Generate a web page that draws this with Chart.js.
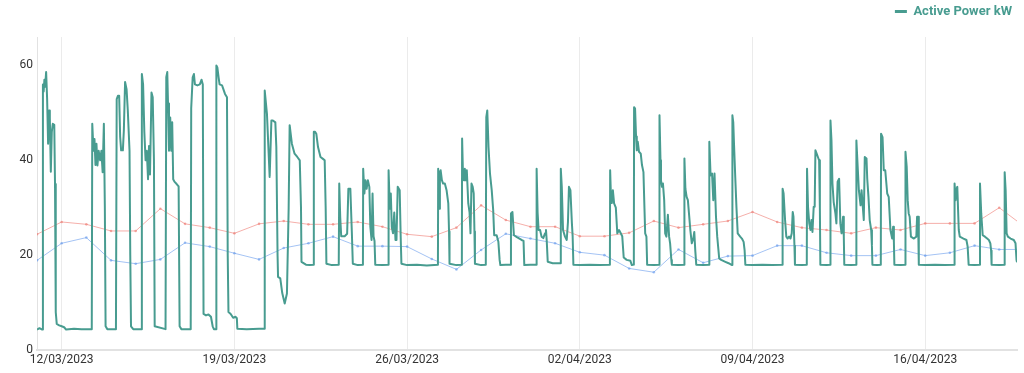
<!DOCTYPE html>
<html>
<head>
<meta charset="utf-8">
<script src="https://cdn.jsdelivr.net/npm/chart.js@4.4.0/dist/chart.umd.min.js"></script>
<style>
  body { margin: 0; background: #fff; }
  canvas { display: block; }
</style>
</head>
<body>
<canvas id="powerChart" width="1024" height="373"></canvas>
<script>
// x values are days since 11/03/2023 00:00
const powerDays = [
  0.00, 0.10, 0.21, 0.24, 0.27, 0.30, 0.33, 0.37, 0.41, 0.45, 0.49, 0.52, 0.56, 0.60, 0.64, 0.70, 0.73, 0.76, 0.80, 0.90, 1.00, 1.10, 1.18, 1.50, 1.80, 2.22,
  2.24, 2.29, 2.33, 2.37, 2.41, 2.45, 2.50, 2.56, 2.61, 2.66, 2.71, 2.75, 2.78, 2.85, 3.20,
  3.23, 3.28, 3.33, 3.37, 3.41, 3.48, 3.52, 3.57, 3.63, 3.68, 3.75, 3.78, 3.81, 3.90, 4.22,
  4.25, 4.30, 4.35, 4.40, 4.45, 4.50, 4.54, 4.58, 4.64, 4.69, 4.74, 4.77, 5.21,
  5.24, 5.28, 5.31, 5.35, 5.40, 5.44, 5.48, 5.52, 5.57, 5.66, 5.74, 5.78, 5.85, 6.23,
  6.25, 6.31, 6.36, 6.40, 6.50, 6.60, 6.67, 6.72, 6.75, 6.85, 6.95, 7.05, 7.12, 7.17, 7.26,
  7.27, 7.31, 7.36, 7.40, 7.50, 7.62, 7.70, 7.73, 7.76, 7.85, 7.95, 8.05, 8.10, 8.12, 8.50, 9.00, 9.22,
  9.23, 9.32, 9.43, 9.50, 9.56, 9.66, 9.70, 9.75, 9.77, 9.86, 9.94, 10.04, 10.13, 10.20, 10.24, 10.33, 10.44, 10.55, 10.65, 10.70, 10.72, 10.90, 11.05, 11.21,
  11.22, 11.27, 11.32, 11.39, 11.49, 11.59, 11.66, 11.70, 11.73, 11.95, 12.23,
  12.25, 12.29, 12.33, 12.47, 12.57, 12.62, 12.70, 12.76, 12.80, 13.00, 13.21,
  13.22, 13.27, 13.31, 13.36, 13.41, 13.47, 13.51, 13.56, 13.60, 13.64, 13.68, 13.71, 14.00, 14.24,
  14.25, 14.30, 14.34, 14.38, 14.43, 14.48, 14.53, 14.57, 14.62, 14.70, 14.74, 14.77, 15.00, 15.40, 15.80, 16.25,
  16.26, 16.30, 16.33, 16.36, 16.41, 16.46, 16.53, 16.60, 16.67, 16.70, 16.72, 17.00, 17.22,
  17.23, 17.27, 17.31, 17.34, 17.38, 17.42, 17.48, 17.53, 17.57, 17.61, 17.66, 17.70, 17.73, 17.75, 18.00, 18.19,
  18.21, 18.25, 18.30, 18.36, 18.43, 18.49, 18.53, 18.63, 18.70, 18.75, 18.78, 19.00, 19.20,
  19.21, 19.27, 19.33, 19.45, 19.64, 19.72, 19.75, 20.00, 20.24,
  20.25, 20.29, 20.33, 20.39, 20.45, 20.52, 20.59, 20.63, 20.66, 20.70, 20.90, 21.22,
  21.23, 21.27, 21.32, 21.40, 21.47, 21.52, 21.56, 21.62, 21.68, 21.71, 21.74, 22.00, 22.40, 22.80, 23.22,
  23.23, 23.27, 23.30, 23.34, 23.39, 23.46, 23.52, 23.59, 23.66, 23.72, 23.78, 23.90, 24.05, 24.11, 24.19,
  24.20, 24.24, 24.28, 24.31, 24.35, 24.40, 24.47, 24.52, 24.58, 24.62, 24.65, 24.70, 24.73, 25.00, 25.22,
  25.23, 25.27, 25.29, 25.33, 25.37, 25.42, 25.46, 25.51, 25.57, 25.62, 25.66, 25.71, 25.73, 26.00, 26.23,
  26.24, 26.28, 26.33, 26.38, 26.43, 26.48, 26.54, 26.60, 26.64, 26.68, 26.72, 27.00, 27.24,
  27.25, 27.30, 27.36, 27.41, 27.46, 27.52, 27.57, 27.65, 27.73, 27.90, 28.03, 28.17, 28.18,
  28.19, 28.22, 28.25, 28.30, 28.35, 28.40, 28.50, 28.57, 28.64, 28.68, 28.71, 29.00, 29.40, 29.80, 30.21,
  30.22, 30.26, 30.32, 30.37, 30.42, 30.48, 30.54, 30.59, 30.63, 30.66, 30.70, 30.72, 31.00, 31.20,
  31.21, 31.25, 31.30, 31.35, 31.39, 31.43, 31.48, 31.52, 31.55, 31.60, 31.65, 31.70, 31.73, 31.75, 32.00, 32.15,
  32.16, 32.20, 32.24, 32.29, 32.36, 32.40, 32.45, 32.51, 32.56, 32.61, 32.67, 32.70, 32.72, 33.00, 33.20,
  33.21, 33.27, 33.31, 33.38, 33.42, 33.46, 33.51, 33.55, 33.62, 33.65, 33.70, 33.75, 33.81, 33.84, 33.86, 34.05, 34.20,
  34.21, 34.27, 34.32, 34.38, 34.46, 34.52, 34.59, 34.66, 34.70, 34.73, 34.75, 35.00, 35.19,
  35.20, 35.25, 35.29, 35.33, 35.37, 35.42, 35.54, 35.64, 35.67, 35.71, 35.74, 36.00, 36.40, 36.80, 37.18,
  37.19, 37.23, 37.27, 37.30, 37.36, 37.40, 37.55, 37.67, 37.72, 37.76, 38.00, 38.21,
  38.22, 38.27, 38.33, 38.42, 38.51, 38.58, 38.64, 38.67, 38.69, 39.00, 39.21,
  39.22, 39.26, 39.30, 39.35, 39.46, 39.59, 39.66, 39.70, 39.72
];
const powerKw = [
  4.3, 4.6, 4.3, 56, 54.5, 57, 55.5, 58.6, 53, 43.5, 50.5, 49, 37.6, 46, 47.7, 47.5, 35, 8, 5.5, 5.2, 5.0, 4.8, 4.3, 4.5, 4.4, 4.4,
  47.7, 42, 44.5, 39, 43.5, 38.9, 42, 40, 42, 37.5, 47.7, 30, 5, 4.4, 4.4,
  52.9, 53.6, 53.6, 45, 42.1, 42.1, 46.3, 56.5, 55, 50.5, 42, 20, 5, 4.4, 4.4,
  58.2, 56, 46, 40, 42, 36, 43, 37, 54.3, 53.3, 40, 5, 4.4,
  57.5, 58.6, 52, 42, 49, 42, 48, 36, 35.5, 35, 34.5, 5, 4.4, 4.4,
  51, 57.5, 58.2, 56, 55.8, 56, 57, 56, 7.6, 7.3, 7.5, 7.0, 5, 4.4, 4.4,
  60, 59.6, 57.5, 56, 55.8, 54, 53.3, 20, 8, 7.6, 6.8, 7, 6.7, 4.5, 4.4, 4.5, 4.5,
  54.7, 49.8, 36.5, 48.4, 48.4, 48, 42.8, 20, 15.4, 15.1, 12, 9.8, 11.9, 30, 47.4, 43.5, 41.4, 40.7, 40, 30, 18.6, 18, 17.9, 18,
  46, 46, 45.6, 42.8, 40.7, 40.3, 40, 30, 18.2, 17.9, 18,
  35.1, 28, 24, 24, 24.5, 34, 34, 25, 18.2, 17.9, 18,
  38.2, 33, 35.8, 34, 35.8, 34.4, 26, 23.2, 33, 24, 23, 18, 17.9, 18,
  37.9, 29.8, 33, 25.9, 24.6, 29, 23.2, 23.2, 34.4, 33.7, 24, 18.2, 17.9, 18, 17.8, 18,
  38.2, 29.8, 37.5, 37.9, 35.8, 35.1, 35.1, 33.7, 30.9, 25, 18.2, 17.9, 18,
  44.6, 36, 35.8, 38.2, 35.8, 37.9, 30.9, 29.1, 24.6, 35.1, 34.4, 33, 25, 18.2, 17.9, 18,
  49.1, 50.5, 42.8, 37.2, 33.7, 29.5, 24.2, 24.2, 22.8, 19, 17.9, 18, 18,
  28.8, 29.1, 24.2, 23.8, 23.2, 23, 17.9, 18, 18,
  38.2, 29, 25.3, 25.3, 23.9, 23.6, 24.6, 25.3, 23, 18.6, 18.3, 18.3,
  38.2, 34.4, 25.3, 23.9, 23.2, 27, 34.4, 33.7, 26.7, 24, 18, 17.9, 18, 17.9, 18,
  37.9, 31, 31.6, 33.7, 30.9, 30, 24.6, 25.3, 24.6, 24, 19.5, 19, 18.8, 17.9, 18,
  51.2, 50.9, 45, 42.1, 43.9, 41.8, 41.4, 39, 37.5, 30, 24.6, 23.9, 18, 17.9, 18,
  49.5, 40, 35.8, 34.4, 35.1, 31.6, 24.6, 23.9, 28.5, 23.9, 22.5, 19, 18, 17.9, 18,
  40.4, 34, 32.3, 31.6, 28.5, 25.3, 22.5, 23.5, 24.9, 21, 18, 17.9, 18,
  43.9, 36.8, 37.2, 31.6, 37.2, 28.1, 23.9, 19.3, 19, 18.6, 18.3, 17.9, 18,
  49.5, 48, 43.5, 36.5, 30, 24.6, 23.9, 23.5, 22.8, 21, 18, 17.9, 18, 17.9, 18,
  34, 33, 27.4, 23.9, 23.5, 23.9, 23.5, 24.6, 29.1, 28.1, 22, 18, 17.9, 18,
  38.2, 30.2, 26.7, 25.3, 27.4, 24.9, 30.2, 30.2, 42.1, 41.4, 40.7, 40, 30, 18, 17.9, 18,
  48.4, 44.2, 35.1, 31.2, 28.8, 26.7, 35.5, 36.1, 26.7, 24.6, 28.1, 24, 18, 17.9, 18,
  44.2, 37.9, 33.7, 30.5, 33.7, 30.9, 27.4, 40.7, 40.4, 36.1, 32.3, 27.4, 25.3, 22, 18, 17.9, 18,
  45.6, 44.9, 37.9, 37.9, 33, 32.3, 25.3, 23.5, 26, 22.8, 18, 17.9, 18,
  41.8, 38.6, 31.6, 28.8, 28.1, 23.9, 23.5, 23.9, 28.1, 28.1, 18, 17.9, 18, 17.9, 18,
  35.1, 31.6, 34, 34.4, 25.3, 23.9, 23.5, 23.2, 21.8, 18, 17.9, 18,
  35.1, 28.8, 24.2, 23.9, 23.5, 23.2, 22.5, 21, 18, 17.9, 18,
  37.5, 33.7, 24.6, 23.9, 23.5, 23.2, 22.5, 19, 18.5
];

// daily reference lines (one point per day at midnight)
const dailyDays = [0, 1, 2, 3, 4, 5, 6, 7, 8, 9, 10, 11, 12, 13, 14, 15, 16, 17, 18, 19, 20,
  21, 22, 23, 24, 25, 26, 27, 28, 29, 30, 31, 32, 33, 34, 35, 36, 37, 38, 39, 40];
const dailyUpper = [24.4, 27.0, 26.5, 25.1, 25.1, 29.8, 26.6, 25.8, 24.6, 26.6, 27.2,
  26.5, 26.5, 27.0, 26.0, 24.4, 23.9, 25.8, 30.5, 27.4, 26.0,
  26.0, 24.0, 24.0, 24.7, 27.2, 25.8, 26.5, 27.2, 29.1, 27.0,
  25.8, 25.3, 24.6, 25.8, 25.3, 26.7, 26.7, 26.7, 30.0, 26.1];
const dailyLower = [18.9, 22.5, 23.7, 18.9, 18.2, 19.1, 22.6, 21.8, 20.4, 19.1, 21.5,
  22.5, 23.9, 21.9, 21.9, 21.8, 19.2, 17.0, 21.1, 24.5, 23.5,
  22.5, 20.6, 20.0, 17.2, 16.4, 21.2, 18.4, 19.8, 19.9, 22.0,
  22.0, 20.5, 19.9, 19.9, 21.2, 19.9, 20.5, 22.0, 21.2, 21.2];

const tickDays = [1, 8, 15, 22, 29, 36];
const tickLabels = ['12/03/2023', '19/03/2023', '26/03/2023', '02/04/2023', '09/04/2023', '16/04/2023'];
const yTicks = [0, 20, 40, 60];

const teal = '#489c90';
const pink = 'rgba(236, 110, 100, 0.55)';
const lightBlue = 'rgba(90, 145, 235, 0.55)';

Chart.defaults.font.family = 'Roboto';
Chart.defaults.font.size = 12;
Chart.defaults.color = '#333';

function toPoints(xs, ys) {
    return xs.map((x, i) => ({ x: x, y: ys[i] }));
}

// make room above the plot like the original
const legendSpace = {
    id: 'legendSpace',
    beforeInit(chart) {
        const fit = chart.legend.fit;
        chart.legend.fit = function () {
            fit.call(this);
            this.height = 37;
        };
    }
};

new Chart(document.getElementById('powerChart'), {
    type: 'line',
    data: {
        datasets: [{
            label: 'Active Power kW',
            data: toPoints(powerDays, powerKw),
            borderColor: teal,
            backgroundColor: teal,
            borderWidth: 2,
            pointRadius: 0,
            tension: 0,
            borderJoinStyle: 'round'
        }, {
            label: 'upper',
            data: toPoints(dailyDays, dailyUpper),
            borderColor: pink,
            backgroundColor: pink,
            borderWidth: 1,
            pointRadius: 1.3,
            pointBorderWidth: 0,
            tension: 0
        }, {
            label: 'lower',
            data: toPoints(dailyDays, dailyLower),
            borderColor: lightBlue,
            backgroundColor: lightBlue,
            borderWidth: 1,
            pointRadius: 1.3,
            pointBorderWidth: 0,
            tension: 0
        }]
    },
    options: {
        responsive: false,
        animation: false,
        layout: { padding: { left: 0, right: 7, top: 0, bottom: 0 } },
        plugins: {
            tooltip: { enabled: false },
            legend: {
                position: 'top',
                align: 'end',
                labels: {
                    color: teal,
                    font: { size: 13, weight: 'bold' },
                    boxWidth: 12,
                    boxHeight: 3,
                    padding: 5,
                    generateLabels: () => [{
                        text: 'Active Power kW',
                        fillStyle: teal,
                        strokeStyle: teal,
                        lineWidth: 0,
                        fontColor: teal,
                        hidden: false,
                        datasetIndex: 0
                    }]
                }
            }
        },
        scales: {
            x: {
                type: 'linear',
                min: 0,
                max: 39.72,
                afterFit: scale => { scale.height = 23; },
                afterBuildTicks: scale => {
                    scale.ticks = tickDays.map(v => ({ value: v }));
                },
                ticks: {
                    autoSkip: false,
                    maxRotation: 0,
                    padding: 3,
                    callback: value => tickLabels[tickDays.indexOf(value)]
                },
                grid: { color: '#ebebeb', drawTicks: false },
                border: { display: true, color: '#e2e2e2', width: 2 }
            },
            y: {
                min: 0,
                max: 66,
                afterFit: scale => { scale.width = 37; },
                afterBuildTicks: scale => {
                    scale.ticks = yTicks.map(v => ({ value: v }));
                },
                ticks: { padding: 4 },
                grid: { display: false, drawTicks: false },
                border: { display: true, color: '#e2e2e2', width: 1 }
            }
        }
    },
    plugins: [legendSpace]
});
</script>
</body>
</html>
